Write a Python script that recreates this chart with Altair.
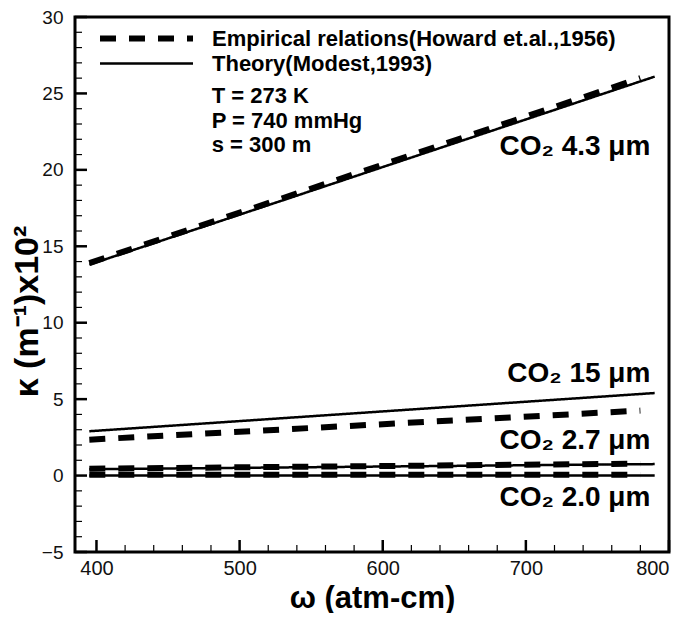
import altair as alt
import pandas as pd

# ---------------- data ----------------
series_names = ["Empirical relations(Howard et.al.,1956)", "Theory(Modest,1993)"]
bands = ["4.3", "15", "2.7", "2.0"]

theory_omega = [395, 790]
theory_43 = [13.8, 26.1]
theory_15 = [2.9, 5.4]
theory_27 = [0.42, 0.75]
theory_20 = [0.0, 0.0]

emp_omega = [395, 780]
emp_43 = [13.9, 26.0]
emp_15 = [2.35, 4.25]
emp_27 = [0.45, 0.78]
emp_20 = [0.05, 0.05]

band_labels = ["CO₂ 4.3 μm", "CO₂ 15 μm", "CO₂ 2.7 μm", "CO₂ 2.0 μm"]
band_label_omega = [787, 787, 787, 787]
band_label_kappa = [21.5, 6.65, 2.25, -1.45]

conditions = ["T = 273 K", "P = 740 mmHg", "s = 300 m"]
cond_omega = [480.5, 480.5, 480.5]
cond_kappa = [24.8, 23.2, 21.62]

x_major = [400, 500, 600, 700, 800]
x_minor = [v for v in range(420, 800, 20) if v % 100]
y_major = list(range(-5, 31, 5))
y_minor = [v for v in range(-5, 31) if v % 5]

# ---------------- tables ----------------
rows = []
for name, om, vals in [
    (series_names[1], theory_omega, [theory_43, theory_15, theory_27, theory_20]),
    (series_names[0], emp_omega, [emp_43, emp_15, emp_27, emp_20]),
]:
    for b, ys in zip(bands, vals):
        for o, k in zip(om, ys):
            rows.append({"source": name, "band": b, "omega": o, "kappa": k})
df = pd.DataFrame(rows)

df_band_labels = pd.DataFrame({"label": band_labels, "omega": band_label_omega, "kappa": band_label_kappa})
df_cond = pd.DataFrame({"label": conditions, "omega": cond_omega, "kappa": cond_kappa})

FONT = "Liberation Sans"
W, H = 594, 535
xscale = alt.Scale(domain=[385, 800], nice=False, zero=False)
yscale = alt.Scale(domain=[-5, 30], nice=False, zero=False)

legend = alt.Legend(
    title=None, orient="none", legendX=22, legendY=9,
    symbolType="stroke", symbolSize=8649, symbolStrokeColor="black",
    labelFont=FONT, labelFontSize=22, labelFontWeight="bold", labelColor="black",
    labelOffset=16, labelLimit=700, padding=0, rowPadding=0, clipHeight=25,
)

lines = alt.Chart(df).mark_line(color="black", strokeCap="butt").encode(
    x=alt.X("omega:Q", scale=xscale, axis=alt.Axis(
        title="ω (atm-cm)", values=x_major, ticks=False, domain=False, grid=False,
        labelFont=FONT, labelFontSize=20, labelPadding=6, labelColor="#111", format="d",
        titleFont=FONT, titleFontSize=31, titleFontWeight="bold", titleColor="black",
        titleY=55, titleBaseline="alphabetic", orient="bottom")),
    y=alt.Y("kappa:Q", scale=yscale, axis=alt.Axis(
        title="κ (m⁻¹)x10²", values=y_major, ticks=False, domain=False, grid=False,
        labelFont=FONT, labelFontSize=19, labelPadding=12, labelColor="#111",
        titleFont=FONT, titleFontSize=34, titleFontWeight="bold", titleColor="black",
        titleAngle=270, titleX=-48, titleY=294, titleAlign="center", titleBaseline="middle",
        orient="left")),
    strokeDash=alt.StrokeDash("source:N", scale=alt.Scale(domain=series_names, range=[[16, 13], [1, 0]]), legend=legend),
    strokeWidth=alt.StrokeWidth("source:N", scale=alt.Scale(domain=series_names, range=[6, 2.5]), legend=legend),
    detail="band:N",
)

def x_ticks(vals, length, width):
    return alt.Chart(pd.DataFrame({"v": vals})).mark_rule(color="black", strokeWidth=width).encode(
        x=alt.X("v:Q", scale=xscale, axis=None),
        y=alt.value(H - length), y2=alt.value(H),
    )

def y_ticks(vals, length, width):
    return alt.Chart(pd.DataFrame({"v": vals})).mark_rule(color="black", strokeWidth=width).encode(
        y=alt.Y("v:Q", scale=yscale, axis=None),
        x=alt.value(0), x2=alt.value(length),
    )

band_text = alt.Chart(df_band_labels).mark_text(
    font=FONT, fontSize=28, fontWeight="bold", align="right", baseline="middle", color="black"
).encode(
    x=alt.X("omega:Q", scale=xscale, axis=None),
    y=alt.Y("kappa:Q", scale=yscale, axis=None),
    text="label:N",
)

cond_text = alt.Chart(df_cond).mark_text(
    font=FONT, fontSize=22, fontWeight="bold", align="left", baseline="middle", color="black"
).encode(
    x=alt.X("omega:Q", scale=xscale, axis=None),
    y=alt.Y("kappa:Q", scale=yscale, axis=None),
    text="label:N",
)

chart = alt.layer(
    x_ticks(x_minor, 7, 1.2), y_ticks(y_minor, 7, 1.2),
    x_ticks(x_major, 12, 2.5), y_ticks(y_major, 12, 2.5),
    lines, band_text, cond_text,
).resolve_axis(
    x="independent", y="independent"
).properties(
    width=W, height=H,
    autosize=alt.AutoSizeParams(type="none"),
    padding={"left": 67, "top": 9, "right": 11, "bottom": 61},
    background="white",
).configure_view(stroke="black", strokeWidth=3)

chart.save("out.html", embed_options={"renderer": "svg", "actions": False})
